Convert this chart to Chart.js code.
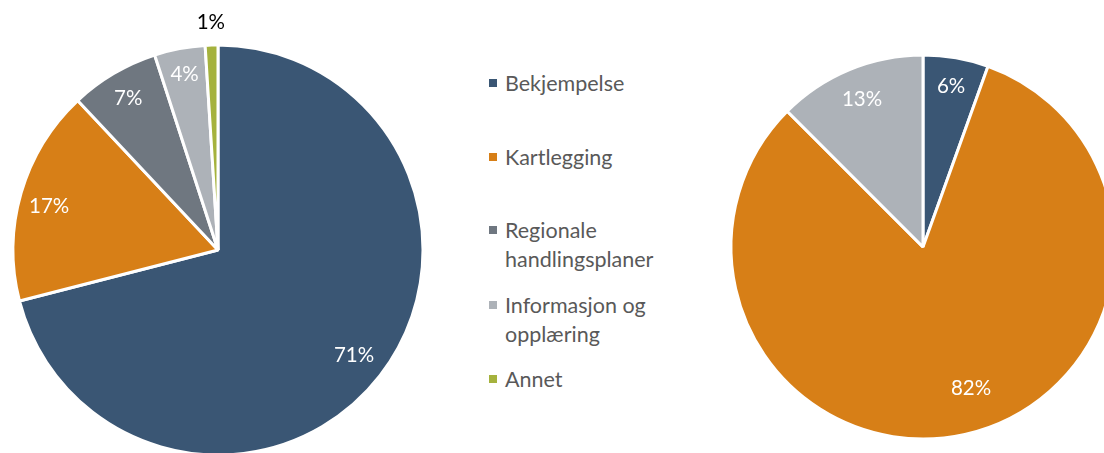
<!DOCTYPE html>
<html>
<head>
<meta charset="utf-8">
<script src="https://cdn.jsdelivr.net/npm/chart.js@4"></script>
<style>
  html, body { margin: 0; padding: 0; width: 1104px; height: 453px; overflow: hidden; background: #fff; }
  #left { position: absolute; left: 0; top: 0; }
  #right { position: absolute; left: 723px; top: 0; }
  #legend { position: absolute; left: 487px; top: 0; font-family: Lato, "Open Sans", sans-serif; font-size: 21.5px; color: #595959; }
  .item { position: absolute; left: 0; white-space: nowrap; line-height: 29px; }
  .sw { position: absolute; left: 2px; top: 10px; width: 8px; height: 8px; }
  .txt { position: absolute; left: 18px; top: 0; }
</style>
</head>
<body>
<canvas id="left" width="436" height="500"></canvas>
<canvas id="right" width="400" height="494"></canvas>
<div id="legend"></div>
<script>
// ---- data ----
const categories = ["Bekjempelse", "Kartlegging", "Regionale handlingsplaner", "Informasjon og opplæring", "Annet"];
const legendLines = [["Bekjempelse"], ["Kartlegging"], ["Regionale", "handlingsplaner"], ["Informasjon og", "opplæring"], ["Annet"]];
const leftValues = [71, 17, 7, 4, 1];
const rightValues = [5.5, 82, 0, 12.5, 0];
const colors = ["#3A5674", "#D77F17", "#6F7780", "#ADB2B8", "#A5B23D"];

// label placement: radial factor (fraction of radius), angular fraction within slice, colour
const leftLabelPos = [0.84, 0.85, 0.86, 0.87, 1.11];
const leftLabelAng = [0.5, 0.47, 0.5, 0.5, 0.5];
const leftLabelColor = ["#fff", "#fff", "#fff", "#fff", "#000"];
const rightLabelPos = [0.85, 0.776, 0.85, 0.83, 0.85];
const rightLabelAng = [0.5, 0.479, 0.5, 0.5, 0.5];
const rightLabelColor = ["#fff", "#fff", "#fff", "#fff", "#fff"];

const pctLabels = {
  id: 'pctLabels',
  afterDatasetsDraw(chart) {
    const ctx = chart.ctx;
    const meta = chart.getDatasetMeta(0);
    const data = chart.data.datasets[0].data;
    const o = chart.options.plugins.pctLabels;
    ctx.save();
    ctx.font = '20.5px Lato, "Open Sans", sans-serif';
    ctx.textAlign = 'center';
    ctx.textBaseline = 'middle';
    meta.data.forEach((arc, i) => {
      if (!data[i]) return;
      const p = arc.getProps(['x', 'y', 'startAngle', 'endAngle', 'outerRadius'], true);
      const a = p.startAngle + (p.endAngle - p.startAngle) * o.ang[i];
      const r = p.outerRadius * o.pos[i];
      ctx.fillStyle = o.color[i];
      ctx.fillText(Math.round(data[i]) + '%', p.x + Math.cos(a) * r, p.y + Math.sin(a) * r);
    });
    ctx.restore();
  }
};

function makePie(id, values, radius, pos, ang, col) {
  return new Chart(document.getElementById(id), {
    type: 'pie',
    data: {
      labels: categories,
      datasets: [{ data: values, backgroundColor: colors, borderColor: '#fff', borderWidth: 3, hoverOffset: 0 }]
    },
    options: {
      responsive: false,
      animation: false,
      radius: radius,
      layout: { padding: 0 },
      plugins: { legend: { display: false }, tooltip: { enabled: false }, pctLabels: { pos: pos, ang: ang, color: col } }
    },
    plugins: [pctLabels]
  });
}
makePie('left', leftValues, 205, leftLabelPos, leftLabelAng, leftLabelColor);
makePie('right', rightValues, 192, rightLabelPos, rightLabelAng, rightLabelColor);

// legend
const legendTops = [69, 143, 216, 291, 365];
const leg = document.getElementById('legend');
legendLines.forEach((lines, i) => {
  const d = document.createElement('div');
  d.className = 'item';
  d.style.top = legendTops[i] + 'px';
  const sw = document.createElement('div');
  sw.className = 'sw';
  sw.style.background = colors[i];
  const t = document.createElement('div');
  t.className = 'txt';
  t.innerHTML = lines.join('<br>');
  d.appendChild(sw); d.appendChild(t);
  leg.appendChild(d);
});
</script>
</body>
</html>
